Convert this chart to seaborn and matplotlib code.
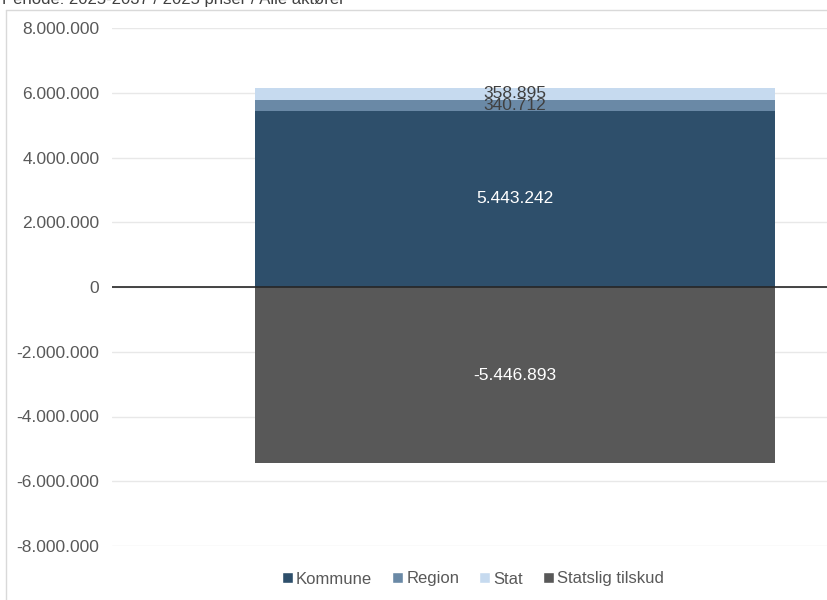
import numpy as np
import pandas as pd
import seaborn as sns
import matplotlib.pyplot as plt
from matplotlib.patches import Patch
from matplotlib.ticker import FuncFormatter

# Data
category = ["Alle"]
series = ["Kommune", "Region", "Stat", "Statslig tilskud"]
kommune = [5443242]
region = [340712]
stat = [358895]
tilskud = [-5446893]

colors = {
    "Kommune": "#2E4F6B",
    "Region": "#6A89A6",
    "Stat": "#C6DAEF",
    "Statslig tilskud": "#585858",
}

sns.set_theme(style="white")
plt.rcParams['font.family'] = ['Liberation Sans', 'DejaVu Sans']

fig = plt.figure(figsize=(8.27, 6), dpi=100, facecolor='white')
ax = fig.add_axes([112 / 827, 1 - 546 / 600, 1 - 112 / 827, (546 - 28) / 600])

df = pd.DataFrame({"cat": category, "Kommune": kommune, "Region": region,
                   "Stat": stat, "Statslig tilskud": tilskud})

bottoms = {
    "Kommune": [0],
    "Region": kommune,
    "Stat": [k + r for k, r in zip(kommune, region)],
    "Statslig tilskud": [0],
}

for s in series:
    sns.barplot(data=df, x="cat", y=s, color=colors[s], width=1.0,
                bottom=bottoms[s], saturation=1, linewidth=0, ax=ax, zorder=3)

# Labels in segments
def fmt(v):
    return f"{v:,.0f}".replace(",", ".")

for s, tc in [("Kommune", "white"), ("Region", "#404040"),
              ("Stat", "#404040"), ("Statslig tilskud", "white")]:
    v = df[s].iloc[0]
    mid = bottoms[s][0] + v / 2
    ax.text(0, mid, fmt(v), ha="center", va="center", color=tc,
            fontsize=12.5, zorder=5)

ax.set_xlim(-(515 - 112) / 520, (827 - 515) / 520)
ax.set_ylim(-8000000, 8000000)
ax.set_yticks(np.arange(-8000000, 8000001, 2000000))
ax.yaxis.set_major_formatter(FuncFormatter(lambda v, p: fmt(v)))
ax.tick_params(axis="y", length=0, pad=9, labelsize=12.5, labelcolor="#595959")
ax.set_xticks([])
ax.set_xlabel("")
ax.set_ylabel("")
ax.grid(axis="y", color="#E8E8E8", linewidth=1, zorder=0)
ax.axhline(0, color="#262626", linewidth=1.2, zorder=4)
for sp in ax.spines.values():
    sp.set_visible(False)

# Legend
handles = [Patch(facecolor=colors[s], label=s) for s in series]
fig.legend(handles=handles, loc="center", bbox_to_anchor=(473 / 827, 1 - 579 / 600),
           ncol=4, frameon=False, fontsize=12, handlelength=0.65, handleheight=0.65,
           handletextpad=0.2, columnspacing=1.2, labelcolor="#595959")

# Chart frame and clipped title
fig.add_artist(plt.Line2D([6 / 827, 6 / 827], [0, 1 - 10 / 600], transform=fig.transFigure,
                          color="#D9D9D9", linewidth=1))
fig.add_artist(plt.Line2D([6 / 827, 1], [1 - 10 / 600, 1 - 10 / 600], transform=fig.transFigure,
                          color="#D9D9D9", linewidth=1))
fig.text(2 / 827, 1 - 4 / 600, "Periode: 2025-2037 / 2025 priser / Alle aktører",
         ha="left", va="baseline", fontsize=12, color="#404040")

plt.savefig("out.png", dpi=100, facecolor="white")
